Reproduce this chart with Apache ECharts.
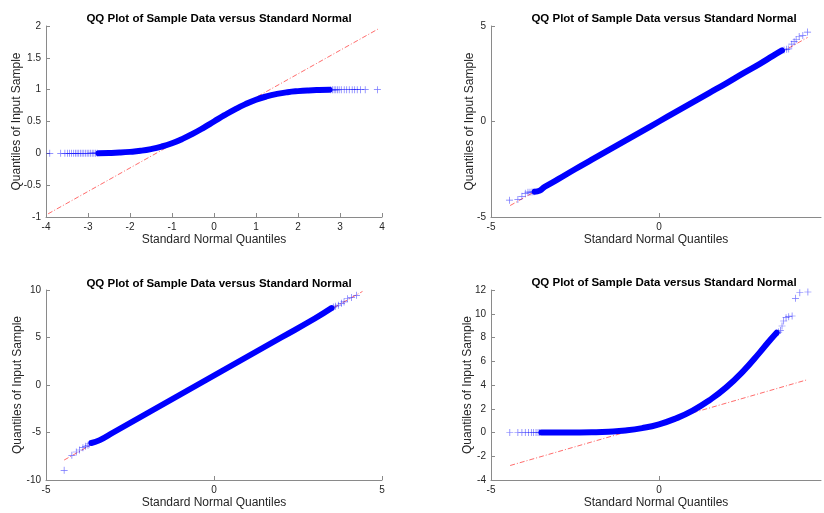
<!DOCTYPE html>
<html>
<head>
<meta charset="utf-8">
<title>QQ plots</title>
<script src="https://cdn.jsdelivr.net/npm/echarts@6/dist/echarts.min.js"></script>
<style>
  html, body { margin: 0; padding: 0; background: #fff; }
  #chart { width: 824px; height: 513px; }
</style>
</head>
<body>
<div id="chart"></div>
<script>
// ---- data ----
const titleText = "QQ Plot of Sample Data versus Standard Normal";
const xName = "Standard Normal Quantiles";
const yName = "Quantiles of Input Sample";

// panel 1 (top-left): uniform sample
const tailLeft1 = [[-3.91,0],[-3.65,0],[-3.55,0],[-3.49,0],[-3.44,0],[-3.39,0],[-3.34,0],[-3.30,0],[-3.26,0],[-3.22,0.001],[-3.18,0.001],[-3.14,0.001],[-3.10,0.001],[-3.06,0.001],[-3.02,0.001],[-2.98,0.001],[-2.94,0.002],[-2.90,0.002],[-2.86,0.002],[-2.82,0.002],[-2.78,0.003]];
const band1 = [[-2.75,0.003],[-2.5,0.006],[-2.25,0.012],[-2.0,0.023],[-1.75,0.04],[-1.5,0.067],[-1.25,0.106],[-1.0,0.159],[-0.75,0.227],[-0.5,0.309],[-0.25,0.401],[0,0.5],[0.25,0.599],[0.5,0.691],[0.75,0.773],[1.0,0.841],[1.25,0.894],[1.5,0.933],[1.75,0.96],[2.0,0.977],[2.25,0.988],[2.5,0.994],[2.75,0.997]];
const tailRight1 = [[2.78,0.997],[2.82,0.998],[2.86,0.998],[2.90,0.998],[2.94,0.998],[2.98,0.999],[3.03,0.999],[3.10,0.999],[3.16,0.999],[3.22,0.999],[3.29,1],[3.35,1],[3.41,1],[3.49,1],[3.60,1],[3.89,1]];
const ref1 = [[-3.95,-0.95],[3.90,1.95]];

// panel 2 (top-right): standard normal sample
const tailLeft2 = [[-4.45,-4.12],[-4.20,-4.08],[-4.08,-3.92],[-3.98,-3.76],[-3.90,-3.70],[-3.84,-3.70],[-3.78,-3.69],[-3.72,-3.68]];
const band2 = [[-3.70,-3.68],[-3.55,-3.62],[-3.4,-3.42],[-3,-3.02],[-2.5,-2.5],[-2,-2.0],[-1.5,-1.5],[-1,-1.0],[-0.5,-0.5],[0,0],[0.5,0.5],[1,1.0],[1.5,1.5],[2,2.0],[2.5,2.52],[3,3.02],[3.4,3.45],[3.66,3.72]];
const tailRight2 = [[3.72,3.75],[3.80,3.78],[3.86,3.80],[3.95,4.05],[4.02,4.18],[4.08,4.28],[4.17,4.45],[4.28,4.50],[4.42,4.68]];
const ref2 = [[-4.43,-4.40],[4.42,4.40]];

// panel 3 (bottom-left): normal sample, mean 1
const tailLeft3 = [[-4.46,-8.98],[-4.23,-7.40],[-4.10,-7.05],[-4.00,-6.84],[-3.90,-6.60],[-3.82,-6.45],[-3.75,-6.35],[-3.70,-6.20]];
const band3 = [[-3.65,-6.1],[-3.4,-5.8],[-3,-5.0],[-2,-3.0],[-1,-1.0],[0,1.0],[1,3.0],[2,5.0],[3,7.0],[3.5,8.1]];
const tailRight3 = [[3.55,8.2],[3.62,8.3],[3.70,8.4],[3.79,8.6],[3.87,8.74],[3.97,9.08],[4.09,9.2],[4.24,9.44],[4.42,10.07]];
const ref3 = [[-4.46,-7.9],[4.42,9.85]];

// panel 4 (bottom-right): skewed sample
const tailLeft4 = [[-4.44,0],[-4.20,0],[-4.08,0],[-3.98,0],[-3.88,0],[-3.80,0],[-3.73,0],[-3.66,0],[-3.60,0],[-3.55,0]];
const band4 = [[-3.5,0],[-3,0.001],[-2.5,0.006],[-2,0.023],[-1.5,0.07],[-1,0.17],[-0.5,0.37],[0,0.69],[0.5,1.18],[1,1.84],[1.5,2.72],[2,3.8],[2.5,5.15],[3,6.75],[3.25,7.6],[3.5,8.4]];
const tailRight4 = [[3.56,8.46],[3.61,8.6],[3.66,8.97],[3.71,9.39],[3.78,9.67],[3.86,9.75],[3.96,9.81],[4.06,11.3],[4.19,11.77],[4.43,11.83]];
const ref4 = [[-4.43,-2.78],[4.42,4.45]];

// axis ranges [min, max, interval]; right-hand panels are cut off just before x = 5
const xRanges = [[-4, 4, 1], [-5, 4.82, 5], [-5, 5, 5], [-5, 4.82, 5]];
const yRanges = [[-1, 2, 0.5], [-5, 5, 5], [-10, 10, 5], [-4, 12, 2]];
const xTicksCut = [-5, 0];

const panels = [
  { tails: [tailLeft1, tailRight1], band: band1, ref: ref1 },
  { tails: [tailLeft2, tailRight2], band: band2, ref: ref2 },
  { tails: [tailLeft3, tailRight3], band: band3, ref: ref3 },
  { tails: [tailLeft4, tailRight4], band: band4, ref: ref4 },
];

// ---- layout ----
const grids = [
  { left: 46, top: 26, width: 336, height: 191 },
  { left: 491, top: 26, width: 330, height: 191 },
  { left: 46, top: 290, width: 336, height: 190 },
  { left: 491, top: 290, width: 330, height: 190 },
];
const titleCenters = [214, 659, 214, 659];
const yNameGaps = [23, 15, 22, 17];
const titleTops = [8, 8, 273, 272];

const font = "'Liberation Sans', Arial, Helvetica, sans-serif";
const axisColor = "#8a8a8a";
const plus = "path://M0,4.5H10V5.5H0Z M4.5,0H5.5V10H4.5Z";

const chart = echarts.init(document.getElementById("chart"));

const xAxes = xRanges.map((r, i) => {
  const cut = r[1] % r[2] !== 0;
  return {
    type: "value", gridIndex: i, min: r[0], max: r[1], interval: r[2],
    name: xName, nameLocation: "middle", nameGap: 17, nameMoveOverlap: false,
    nameTextStyle: { fontFamily: font, fontSize: 12, color: "#262626" },
    axisLine: { onZero: false, lineStyle: { color: axisColor, width: 1 } },
    axisTick: Object.assign({ inside: true, length: 4, lineStyle: { color: axisColor } },
      cut ? { customValues: xTicksCut } : {}),
    axisLabel: Object.assign({ fontFamily: font, fontSize: 10, color: "#262626", margin: 5 },
      cut ? { customValues: xTicksCut } : {}),
    splitLine: { show: false },
  };
});

const yAxes = yRanges.map((r, i) => ({
  type: "value", gridIndex: i, min: r[0], max: r[1], interval: r[2],
  name: yName, nameLocation: "middle", nameGap: yNameGaps[i], nameMoveOverlap: false,
  nameTextStyle: { fontFamily: font, fontSize: 12, color: "#262626" },
  axisLine: { onZero: false, lineStyle: { color: axisColor, width: 1 } },
  axisTick: { inside: true, length: 4, lineStyle: { color: axisColor } },
  axisLabel: { fontFamily: font, fontSize: 10, color: "#262626", margin: 5 },
  splitLine: { show: false },
}));

const series = [];
panels.forEach((p, i) => {
  // dash-dot reference line
  series.push({
    type: "line", xAxisIndex: i, yAxisIndex: i, data: p.ref,
    symbol: "none", z: 1, silent: true,
    lineStyle: { color: "#ff3b3b", width: 1, type: [5, 2, 1, 2], opacity: 0.75 },
  });
  // dense body of the sample (overlapping markers)
  series.push({
    type: "line", xAxisIndex: i, yAxisIndex: i, data: p.band,
    symbol: "none", smooth: true, z: 2,
    lineStyle: { color: "#0000ff", width: 6, cap: "round" },
  });
  // sparse tail markers
  series.push({
    type: "scatter", xAxisIndex: i, yAxisIndex: i,
    data: p.tails[0].concat(p.tails[1]),
    symbol: plus, symbolSize: 7, z: 3,
    itemStyle: { color: "rgba(0,0,255,0.7)" },
  });
});

const option = {
  animation: false,
  backgroundColor: "#fff",
  title: grids.map((g, i) => ({
    text: titleText,
    left: titleCenters[i], top: titleTops[i], textAlign: "center",
    textStyle: { fontFamily: font, fontSize: 11.5, fontWeight: "bold", color: "#000" },
  })),
  grid: grids,
  xAxis: xAxes,
  yAxis: yAxes,
  series: series,
};

chart.setOption(option);
</script>
</body>
</html>
